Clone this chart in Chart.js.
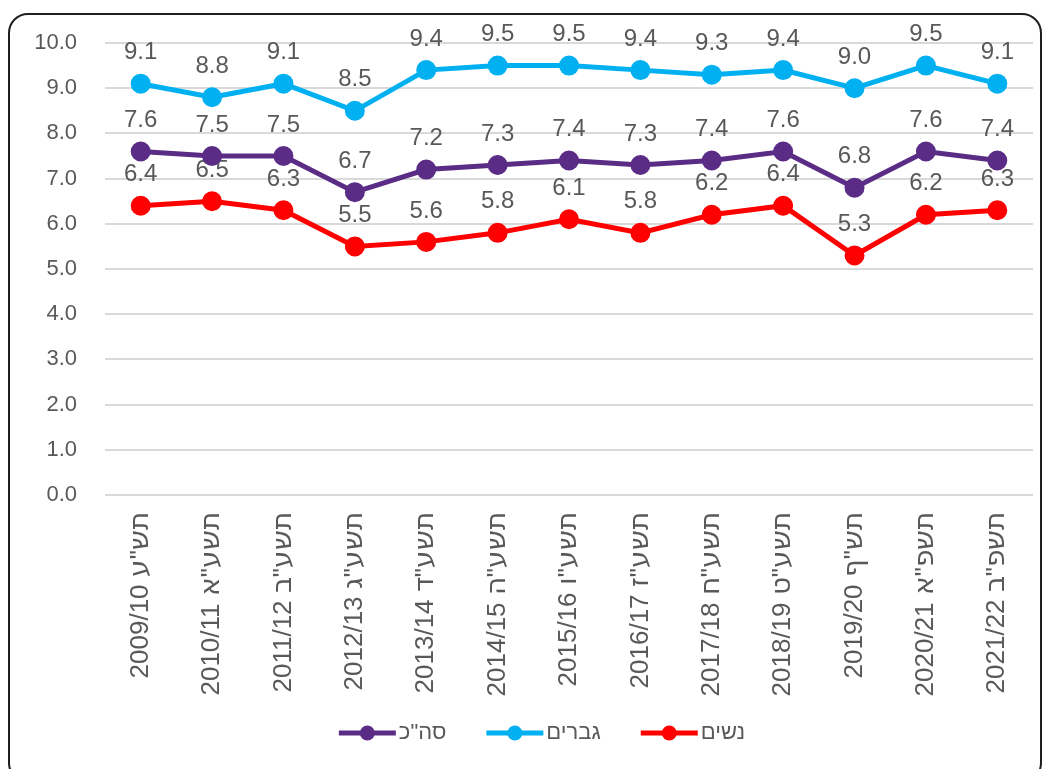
<!DOCTYPE html>
<html lang="he">
<head>
<meta charset="utf-8">
<title>chart</title>
<script src="https://cdn.jsdelivr.net/npm/chart.js@4.4.1/dist/chart.umd.min.js"></script>
<style>
  @font-face { font-family:'HebLab'; src: local('DejaVu Sans'); unicode-range: U+0590-05FF; size-adjust: 108%; }
  html, body { margin:0; padding:0; background:#fff; }
  #wrap { position:relative; width:1048px; height:769px; overflow:hidden; }
  #frame { position:absolute; left:8px; top:13px; width:1034px; height:770px; border:2px solid #1f1f1f; border-radius:20px; box-sizing:border-box; }
  #chart { position:absolute; left:0; top:0; }
</style>
</head>
<body>
<div id="wrap">
  <div id="frame"></div>
  <canvas id="chart" width="1048" height="769"></canvas>
</div>
<script>
// data
const years = ['2009/10 תש"ע','2010/11 תשע"א','2011/12 תשע"ב','2012/13 תשע"ג','2013/14 תשע"ד','2014/15 תשע"ה','2015/16 תשע"ו','2016/17 תשע"ז','2017/18 תשע"ח','2018/19 תשע"ט','2019/20 תש"ף','2020/21 תשפ"א','2021/22 תשפ"ב'];
const total = [7.6, 7.5, 7.5, 6.7, 7.2, 7.3, 7.4, 7.3, 7.4, 7.6, 6.8, 7.6, 7.4];
const men   = [9.1, 8.8, 9.1, 8.5, 9.4, 9.5, 9.5, 9.4, 9.3, 9.4, 9.0, 9.5, 9.1];
const women = [6.4, 6.5, 6.3, 5.5, 5.6, 5.8, 6.1, 5.8, 6.2, 6.4, 5.3, 6.2, 6.3];
const seriesNames = ['סה"כ', 'גברים', 'נשים'];
const yTicks = [0,1,2,3,4,5,6,7,8,9,10];

const GRAY = '#595959';
const FONT = '"Liberation Sans", Arial, sans-serif';
const XFONT = 'HebLab, "Liberation Sans Narrow", "Liberation Sans", Arial, sans-serif';

function ds(label, data, color){
  return {
    label, data,
    borderColor: color, backgroundColor: color,
    pointBackgroundColor: color, pointBorderColor: color,
    borderWidth: 5, pointRadius: 7.5, pointHoverRadius: 7.5,
    tension: 0, fill: false
  };
}

// value labels above each point
const valueLabels = {
  id: 'valueLabels',
  beforeDatasetsDraw(chart){
    const ctx = chart.ctx;
    ctx.save();
    ctx.font = '24px ' + FONT;
    ctx.fillStyle = GRAY;
    ctx.textAlign = 'center';
    ctx.textBaseline = 'middle';
    chart.data.datasets.forEach((d,i)=>{
      chart.getDatasetMeta(i).data.forEach((pt,j)=>{
        ctx.fillText(d.data[j].toFixed(1), pt.x, pt.y - 31);
      });
    });
    ctx.restore();
  }
};

// legend: line with marker, then the name
const lineLegend = {
  id: 'lineLegend',
  afterDraw(chart){
    const ctx = chart.ctx;
    ctx.save();
    ctx.font = '22px ' + FONT;
    ctx.textBaseline = 'middle';
    const lineW = 57, gapText = 3, gapItem = 40, y = 733;
    const items = chart.data.datasets.map(d=>({ text:d.label, color:d.borderColor, w:ctx.measureText(d.label).width }));
    const full = items.reduce((s,it)=>s + lineW + gapText + it.w, 0) + gapItem*(items.length-1);
    let x = 542 - full/2;
    items.forEach(it=>{
      ctx.strokeStyle = it.color; ctx.fillStyle = it.color; ctx.lineWidth = 5;
      ctx.beginPath(); ctx.moveTo(x, y); ctx.lineTo(x + lineW, y); ctx.stroke();
      ctx.beginPath(); ctx.arc(x + lineW/2, y, 7.5, 0, Math.PI*2); ctx.fill();
      ctx.fillStyle = GRAY;
      ctx.textAlign = 'left';
      ctx.fillText(it.text, x + lineW + gapText, y);
      x += lineW + gapText + it.w + gapItem;
    });
    ctx.restore();
  }
};

function draw(){
  new Chart(document.getElementById('chart'), {
    type: 'line',
    data: {
      labels: years,
      datasets: [
        ds(seriesNames[0], total, '#5B2C86'),
        ds(seriesNames[1], men, '#00B0F0'),
        ds(seriesNames[2], women, '#FF0000')
      ]
    },
    options: {
      responsive: false,
      animation: false,
      events: [],
      layout: { padding: { left:0, top:43, right:15, bottom:0 } },
      plugins: { legend: { display:false }, tooltip: { enabled:false } },
      scales: {
        x: {
          offset: true,
          grid: { display:false, drawTicks:false },
          border: { display:false },
          ticks: { color:GRAY, font:{ size:26, family:XFONT }, minRotation:90, maxRotation:90, padding:17, autoSkip:false },
          afterFit: s => { s.height = 274; }
        },
        y: {
          min: 0, max: 10,
          afterBuildTicks: s => { s.ticks = yTicks.map(v=>({ value:v })); },
          grid: { color:'#d9d9d9', lineWidth:2, drawTicks:false },
          border: { display:false },
          ticks: { color:GRAY, font:{ size:22, family:FONT }, padding:28, callback: v => Number(v).toFixed(1) },
          afterFit: s => { s.width = 105; }
        }
      }
    },
    plugins: [valueLabels, lineLegend]
  });
}

document.fonts.load('26px HebLab', 'תשע').then(draw, draw);
</script>
</body>
</html>
